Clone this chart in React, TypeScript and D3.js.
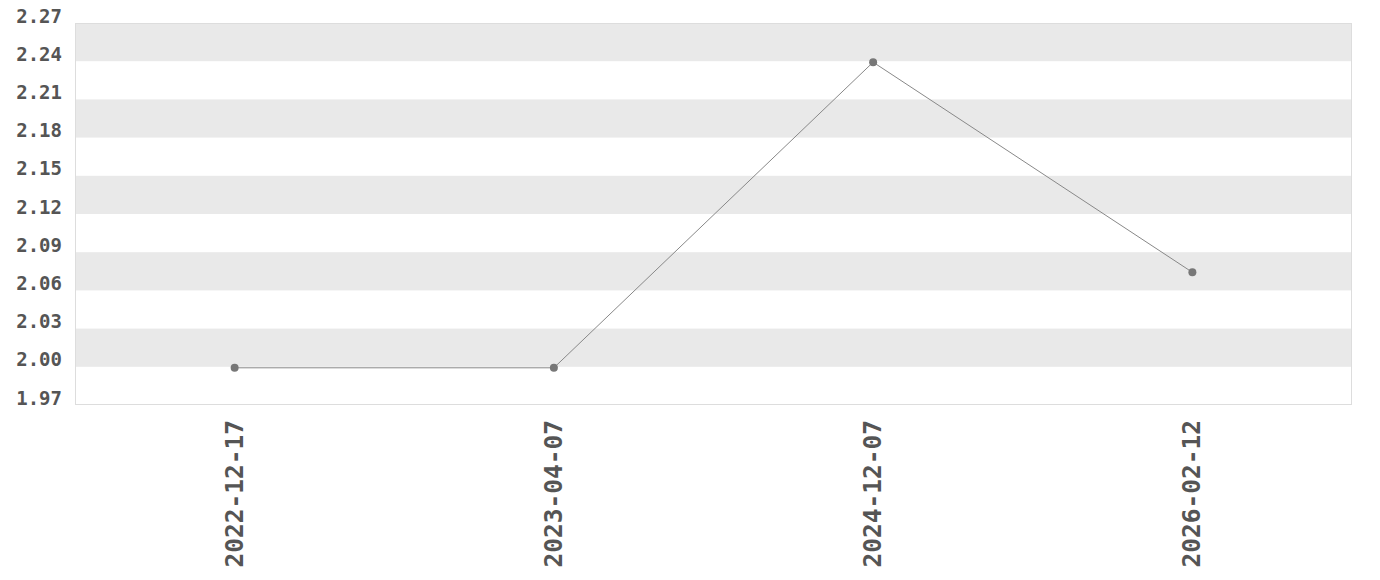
import React from "react";
import * as d3 from "d3";

const dates: string[] = ["2022-12-17", "2023-04-07", "2024-12-07", "2026-02-12"];
const values: number[] = [2.0, 2.0, 2.24, 2.075];
const yTicks: number[] = [1.97, 2.0, 2.03, 2.06, 2.09, 2.12, 2.15, 2.18, 2.21, 2.24, 2.27];

const W = 1380;
const H = 580;
const left = 75;
const right = 1352;
const top = 23;
const bottom = 405;
const font = "'DejaVu Sans Mono', 'Liberation Mono', monospace";

export default function App() {
  const x = d3.scalePoint<string>().domain(dates).range([left, right]).padding(0.5);
  const y = d3.scaleLinear().domain([1.97, 2.27]).range([bottom, top]);

  const line = d3
    .line<number>()
    .x((_, i) => x(dates[i]) as number)
    .y((d) => y(d) + 1);

  // alternating shaded bands, starting from the top band
  const bands: [number, number][] = [];
  for (let i = yTicks.length - 1; i > 0; i -= 2) {
    bands.push([yTicks[i], yTicks[i - 1]]);
  }

  return (
    <div style={{ position: "absolute", left: 0, top: 0 }}>
      <svg width={W} height={H} style={{ display: "block" }}>
        <rect x={0} y={0} width={W} height={H} fill="#fff" />
        {bands.map(([a, b], i) => (
          <rect
            key={i}
            x={left}
            y={y(a)}
            width={right - left}
            height={y(b) - y(a)}
            fill="#e9e9e9"
          />
        ))}
        <rect
          x={left + 0.5}
          y={top + 0.5}
          width={right - left - 1}
          height={bottom - top - 1}
          fill="none"
          stroke="#dddddd"
          strokeWidth={1}
        />
        {yTicks.map((t) => (
          <text
            key={t}
            x={62}
            y={y(t) - 0.5}
            textAnchor="end"
            fontFamily={font}
            fontWeight="bold"
            fontSize={19}
            fill="#555"
          >
            {t.toFixed(2)}
          </text>
        ))}
        {dates.map((d) => (
          <text
            key={d}
            transform={`translate(${(x(d) as number) + 8},420) rotate(-90)`}
            textAnchor="end"
            fontFamily={font}
            fontWeight="bold"
            fontSize={24.5}
            fill="#555"
          >
            {d}
          </text>
        ))}
        <path d={line(values) ?? ""} fill="none" stroke="#888" strokeWidth={1} />
        {values.map((v, i) => (
          <circle key={i} cx={x(dates[i]) as number} cy={y(v) + 1} r={4} fill="#777" />
        ))}
      </svg>
    </div>
  );
}
